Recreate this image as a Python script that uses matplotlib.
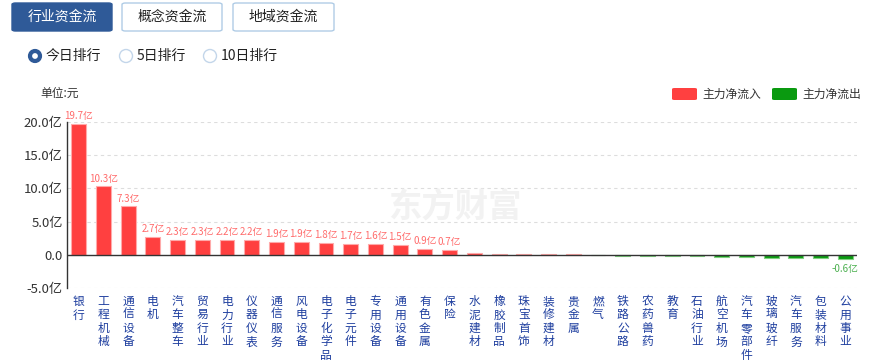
import matplotlib
matplotlib.use("Agg")
import matplotlib.pyplot as plt
from matplotlib.patches import FancyBboxPatch, Ellipse
import numpy as np

plt.rcParams["font.family"] = ["Noto Sans CJK SC", "DejaVu Sans"]

# industry fund flow, unit: 亿元
industries = ["银行", "工程机械", "通信设备", "电机", "汽车整车", "贸易行业", "电力行业",
              "仪器仪表", "通信服务", "风电设备", "电子化学品", "电子元件", "专用设备",
              "通用设备", "有色金属", "保险", "水泥建材", "橡胶制品", "珠宝首饰", "装修建材",
              "贵金属", "燃气", "铁路公路", "农药兽药", "教育", "石油行业", "航空机场",
              "汽车零部件", "玻璃玻纤", "汽车服务", "包装材料", "公用事业"]
net_flow = [19.7, 10.3, 7.3, 2.7, 2.3, 2.3, 2.2, 2.2, 1.9, 1.9, 1.8, 1.7, 1.6, 1.5,
            0.9, 0.7, 0.2, 0.08, 0.07, 0.06, 0.05, -0.03, -0.15, -0.15, -0.15, -0.25,
            -0.4, -0.4, -0.45, -0.5, -0.5, -0.6]
labelled = 16  # first 16 bars carry a value label, plus the last one
yticks = [-5, 0, 5, 10, 15, 20]
ytick_labels = ["-5.0亿", "0.0", "5.0亿", "10.0亿", "15.0亿", "20.0亿"]
tabs = ["行业资金流", "概念资金流", "地域资金流"]
ranks = ["今日排行", "5日排行", "10日排行"]

RED = "#ff4040"
GREEN = "#0a9a10"
W, H = 882, 362


def fx(x):
    return x / W


def fy(y):
    return 1 - y / H


fig = plt.figure(figsize=(8.82, 3.62), dpi=100)
ax = fig.add_axes([fx(67), fy(288), fx(857) - fx(67), fy(122) - fy(288)])

x = np.arange(len(industries))
vals = np.array(net_flow)
colors = [RED if v >= 0 else GREEN for v in vals]
edges = ["#ffaaaa" if v >= 0 else "#7fd07f" for v in vals]
ax.bar(x, vals, width=0.6, color=colors, edgecolor=edges, linewidth=0.8, zorder=3)

for i, v in enumerate(vals):
    if i < labelled:
        ax.annotate(f"{v:.1f}亿", (i, v), xytext=(0, 2), textcoords="offset points",
                    ha="center", va="bottom", fontsize=7, color="#ff6b6b")
ax.annotate(f"{vals[-1]:.1f}亿", (x[-1], vals[-1]), xytext=(0, -4),
            textcoords="offset points", ha="center", va="top", fontsize=7,
            color="#4cb050")

ax.set_xlim(-0.47, len(industries) - 0.53)
ax.set_ylim(-5, 20)
ax.set_yticks(yticks)
ax.set_yticklabels(ytick_labels, fontsize=9.5, color="#333333")
for y in yticks:
    if y != 0:
        ax.axhline(y, color="#dddddd", lw=0.8, ls=(0, (3, 3)), zorder=1)
ax.axhline(0, color="#333333", lw=1.0, zorder=4)

ax.set_xticks(x)
ax.set_xticklabels(["\n".join(s) for s in industries], fontsize=8.5, color="#1f3f9f",
                   va="top", linespacing=1.05)
ax.tick_params(axis="x", length=0, pad=5)
ax.tick_params(axis="y", length=0, pad=3)
for side in ["top", "right", "bottom"]:
    ax.spines[side].set_visible(False)
ax.spines["left"].set_color("#333333")
ax.spines["left"].set_linewidth(1.0)

# watermark
fig.text(fx(455), fy(208), "东方财富", fontsize=24, fontweight="bold", color="#f2f2f2",
         ha="center", va="center", zorder=0)

# tab buttons
tab_x = [(12, 112), (122, 222), (233, 334)]
for i, (label, (x0, x1)) in enumerate(zip(tabs, tab_x)):
    active = i == 0
    box = FancyBboxPatch((fx(x0), fy(31)), fx(x1) - fx(x0), fy(3) - fy(31),
                         boxstyle="round,pad=0,rounding_size=0.004",
                         transform=fig.transFigure,
                         facecolor="#2f5a98" if active else "white",
                         edgecolor="#2f5a98" if active else "#b0cce6", lw=1)
    fig.add_artist(box)
    fig.text(fx((x0 + x1) / 2), fy(17), label, fontsize=10, ha="center", va="center",
             color="white" if active else "#222222")

# radio buttons
radio_x = [35, 126, 210]
for i, (label, cx) in enumerate(zip(ranks, radio_x)):
    if i == 0:
        dot = Ellipse((fx(cx), fy(56)), 10 / W, 10 / H, transform=fig.transFigure,
                      facecolor="white", edgecolor="#2f5a98", lw=3.0)
    else:
        dot = Ellipse((fx(cx), fy(56)), 13 / W, 13 / H, transform=fig.transFigure,
                      facecolor="white", edgecolor="#c3d6ea", lw=1)
    fig.add_artist(dot)
    fig.text(fx(cx + 11), fy(56), label, fontsize=10, ha="left", va="center",
             color="#222222")

fig.text(fx(40), fy(93), "单位:元", fontsize=8.5, ha="left", va="center", color="#333333")

# legend
for (x0, color, label) in [(672, RED, "主力净流入"), (772, GREEN, "主力净流出")]:
    fig.add_artist(FancyBboxPatch((fx(x0), fy(100)), fx(25), fy(88) - fy(100),
                                  boxstyle="round,pad=0,rounding_size=0.003",
                                  transform=fig.transFigure, facecolor=color,
                                  edgecolor="none"))
    fig.text(fx(x0 + 30), fy(94), label, fontsize=8.5, ha="left", va="center",
             color="#333333")

fig.savefig("out.png", dpi=100)
plt.close(fig)
